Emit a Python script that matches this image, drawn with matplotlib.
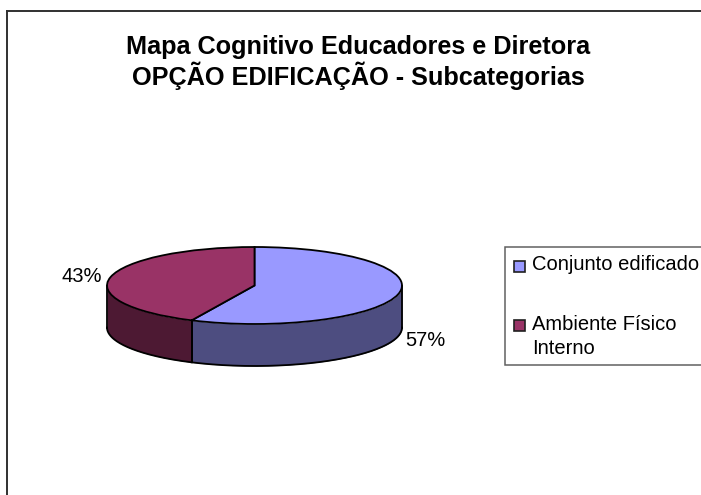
import numpy as np
import matplotlib
matplotlib.use('Agg')
import matplotlib.pyplot as plt
from matplotlib.patches import Rectangle

categories = ['Conjunto edificado', 'Ambiente Físico\nInterno']
values = [57, 43]
top_colors = ['#9999ff', '#993366']
side_colors = ['#4d4d80', '#4d1933']
title = 'Mapa Cognitivo Educadores e Diretora\nOPÇÃO EDIFICAÇÃO - Subcategorias'

W, H = 701, 495
plt.rcParams['font.family'] = ['Liberation Sans', 'DejaVu Sans']

fig = plt.figure(figsize=(W / 100, H / 100), dpi=100)

# page frame, in pixels
bg = fig.add_axes([0, 0, 1, 1])
bg.set_xlim(0, W)
bg.set_ylim(H, 0)
bg.axis('off')
bg.plot([6.7, 6.7], [H, 11], color='#303030', lw=1.4, solid_capstyle='projecting')
bg.plot([6.7, W], [11, 11], color='#303030', lw=1.4, solid_capstyle='projecting')
bg.text(358.5, 62.5, title, ha='center', va='center', fontsize=18.2, fontweight='bold', linespacing=1.15)

# legend box
bg.add_patch(Rectangle((505, 247), 200, 118, fc='white', ec='#606060', lw=1.1))
bg.add_patch(Rectangle((513.5, 260.5), 11, 11, fc=top_colors[0], ec='#202020', lw=1.2))
bg.add_patch(Rectangle((513.5, 319.5), 11, 11, fc=top_colors[1], ec='#202020', lw=1.2))
bg.text(532, 264, categories[0], va='center', fontsize=14.5)
bg.text(532, 336.5, categories[1], va='center', fontsize=14.5, linespacing=1.4)

# pie: an ellipse from a normal pie with aspect auto
cx0, cx1, cy0, cy1 = 107, 402, 247, 324
ax = fig.add_axes([cx0 / W, 1 - cy1 / H, (cx1 - cx0) / W, (cy1 - cy0) / H])
depth = 42 / ((cy1 - cy0) / 2)

# side walls, only the part of the rim facing front
fracs = np.array(values) / sum(values)
edges = np.concatenate([[0], np.cumsum(fracs)]) * 2 * np.pi
for i in range(len(values)):
    a0 = max(edges[i], np.pi / 2)
    a1 = min(edges[i + 1], 3 * np.pi / 2)
    if a1 <= a0:
        continue
    t = np.linspace(a0, a1, 200)
    x = np.sin(t)
    y = np.cos(t)
    ax.fill_between(x, y, y - depth, color=side_colors[i], lw=0, clip_on=False)
    ax.plot(x, y - depth, color='black', lw=1.3, clip_on=False)
    ax.plot([x[0], x[0]], [y[0], y[0] - depth], color='black', lw=1.3, clip_on=False)
    ax.plot([x[-1], x[-1]], [y[-1], y[-1] - depth], color='black', lw=1.3, clip_on=False)

ax.pie(values, colors=top_colors, startangle=90, counterclock=False,
       wedgeprops=dict(edgecolor='black', linewidth=1.3, clip_on=False))
ax.set_aspect('auto')
ax.set_xlim(-1, 1)
ax.set_ylim(-1, 1)
ax.axis('off')

bg.text(425, 340, '%d%%' % values[0], ha='center', va='center', fontsize=14.5)
bg.text(81.5, 276, '%d%%' % values[1], ha='center', va='center', fontsize=14.5)

fig.savefig('out.png', dpi=100)
